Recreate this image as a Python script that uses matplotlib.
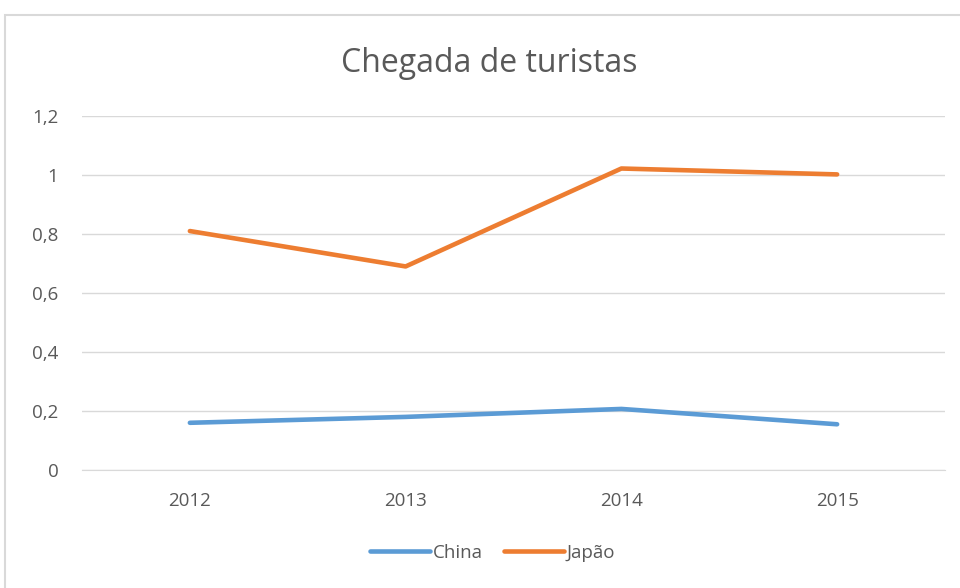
import numpy as np
import matplotlib
matplotlib.use('Agg')
import matplotlib.pyplot as plt
from matplotlib.patches import Rectangle

plt.rcParams['font.family'] = ['Open Sans', 'DejaVu Sans']

# dados
anos = ['2012', '2013', '2014', '2015']
china = [0.16, 0.18, 0.207, 0.155]
japao = [0.81, 0.69, 1.022, 1.002]
yticks = [0, 0.2, 0.4, 0.6, 0.8, 1.0, 1.2]
ylabels = ['0', '0,2', '0,4', '0,6', '0,8', '1', '1,2']

cinza = '#595959'

fig = plt.figure(figsize=(9.6, 5.88), dpi=100)
# moldura do gráfico (estilo Excel)
fig.patches.append(Rectangle((5 / 960, -0.1), 1.2, 1 - 15 / 588 + 0.1,
                             transform=fig.transFigure, fill=False,
                             edgecolor='#d9d9d9', linewidth=1.5))

ax = fig.add_axes([82 / 960, 1 - 470 / 588, 863 / 960, 354 / 588])
x = np.arange(len(anos))
ax.plot(x, china, color='#5b9bd5', lw=3.3, solid_capstyle='round', label='China')
ax.plot(x, japao, color='#ed7d31', lw=3.3, solid_capstyle='round', label='Japão')

ax.set_xlim(-0.5, 3.5)
ax.set_ylim(0, 1.2)
ax.set_yticks(yticks)
ax.set_yticklabels(ylabels)
ax.set_xticks(x)
ax.set_xticklabels(anos)
ax.grid(axis='y', color='#d9d9d9', lw=1)
ax.set_axisbelow(True)
for s in ['top', 'right', 'left']:
    ax.spines[s].set_visible(False)
ax.spines['bottom'].set_color('#d9d9d9')
ax.tick_params(length=0, labelsize=13.5, colors=cinza)
ax.tick_params(axis='y', pad=17)
ax.tick_params(axis='x', pad=16)

fig.text(0.51, 1 - 63 / 588, 'Chegada de turistas', ha='center', va='center',
         fontsize=23, color=cinza)
fig.legend(loc='center', bbox_to_anchor=(0.513, 1 - 553 / 588), ncol=2,
           frameon=False, fontsize=13.5, handlelength=3.2, handletextpad=0.15,
           columnspacing=1.1, labelcolor=cinza)

fig.savefig('out.png', dpi=100)
